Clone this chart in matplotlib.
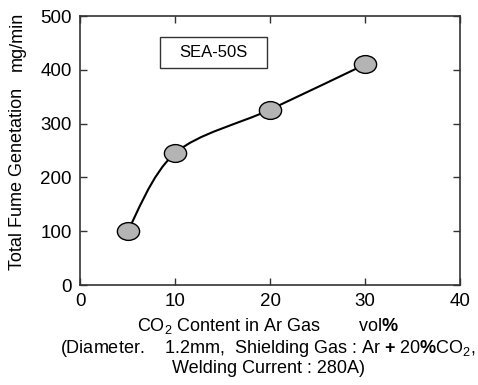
import numpy as np
import matplotlib
matplotlib.use("Agg")
from matplotlib import pyplot as plt
from matplotlib.path import Path
from matplotlib.patches import PathPatch, Rectangle
from matplotlib.transforms import Affine2D

# data
co2_pct = [5, 10, 20, 30]
fume = [100, 245, 326, 410]
x_ticks = [0, 10, 20, 30, 40]
y_ticks = [0, 100, 200, 300, 400, 500]

plt.rcParams["font.family"] = ["Liberation Sans", "DejaVu Sans"]
plt.rcParams["mathtext.fontset"] = "custom"
plt.rcParams["mathtext.rm"] = "Liberation Sans"
plt.rcParams["mathtext.it"] = "Liberation Sans"
plt.rcParams["mathtext.bf"] = "Liberation Sans:bold"

fig = plt.figure(figsize=(4.78, 3.85), dpi=100)
ax = fig.add_axes([0.1674, 0.2597, 0.795, 0.6987])

# smooth line through the points (Catmull-Rom as cubic bezier)
pts = np.column_stack([co2_pct, fume]).astype(float)
verts = [pts[0]]
codes = [Path.MOVETO]
n = len(pts)
for i in range(n - 1):
    p0 = pts[i - 1] if i > 0 else pts[i]
    p1 = pts[i]
    p2 = pts[i + 1]
    p3 = pts[i + 2] if i + 2 < n else pts[i + 1]
    c1 = p1 + (p2 - p0) / 6.0
    c2 = p2 - (p3 - p1) / 6.0
    verts += [c1, c2, p2]
    codes += [Path.CURVE4] * 3
ax.add_patch(PathPatch(Path(verts, codes), facecolor="none", edgecolor="black", lw=1.5, zorder=2))

# slightly flattened circle marker
ell = Path.unit_circle().transformed(Affine2D().scale(1.0, 0.8))
ax.plot(co2_pct, fume, linestyle="none", marker=ell, markersize=16,
        markerfacecolor="#b4b4b4", markeredgecolor="black", markeredgewidth=1.0, zorder=3)

ax.set_xlim(0, 40)
ax.set_ylim(0, 500)
ax.set_xticks(x_ticks)
ax.set_yticks(y_ticks)
ax.tick_params(direction="in", length=5, width=1, top=True, right=True,
               labelsize=13.5, colors="#333333", labelcolor="black")
ax.tick_params(axis="x", pad=6)
ax.tick_params(axis="y", pad=6)
for s in ax.spines.values():
    s.set_color("#333333")
    s.set_linewidth(1.2)

# label box
ax.add_patch(Rectangle((0.2105, 0.807), 0.2816, 0.115, transform=ax.transAxes,
                       facecolor="white", edgecolor="#333333", lw=1, zorder=4))
ax.text(0.351, 0.866, "SEA-50S", transform=ax.transAxes, ha="center", va="center",
        fontsize=12, zorder=5)

fig.text(0.036, 0.535, "Total Fume Genetation", rotation=90, ha="center", va="center",
         fontsize=13)
fig.text(0.036, 0.893, "mg/min", rotation=90, ha="center", va="center", fontsize=13)

fig.text(0.480, 0.153, r"CO$_2$ Content in Ar Gas", ha="center", va="center", fontsize=13)
fig.text(0.791, 0.153, r"vol$\mathbf{\%}$", ha="center", va="center", fontsize=13)
fig.text(0.561, 0.096, r"(Diameter.    1.2mm,  Shielding Gas : Ar $\mathbf{+}$ 20$\mathbf{\%}$CO$_2$,",
         ha="center", va="center", fontsize=13)
fig.text(0.561, 0.043, "Welding Current : 280A)", ha="center", va="center", fontsize=13)

fig.savefig("out.png", dpi=100)
